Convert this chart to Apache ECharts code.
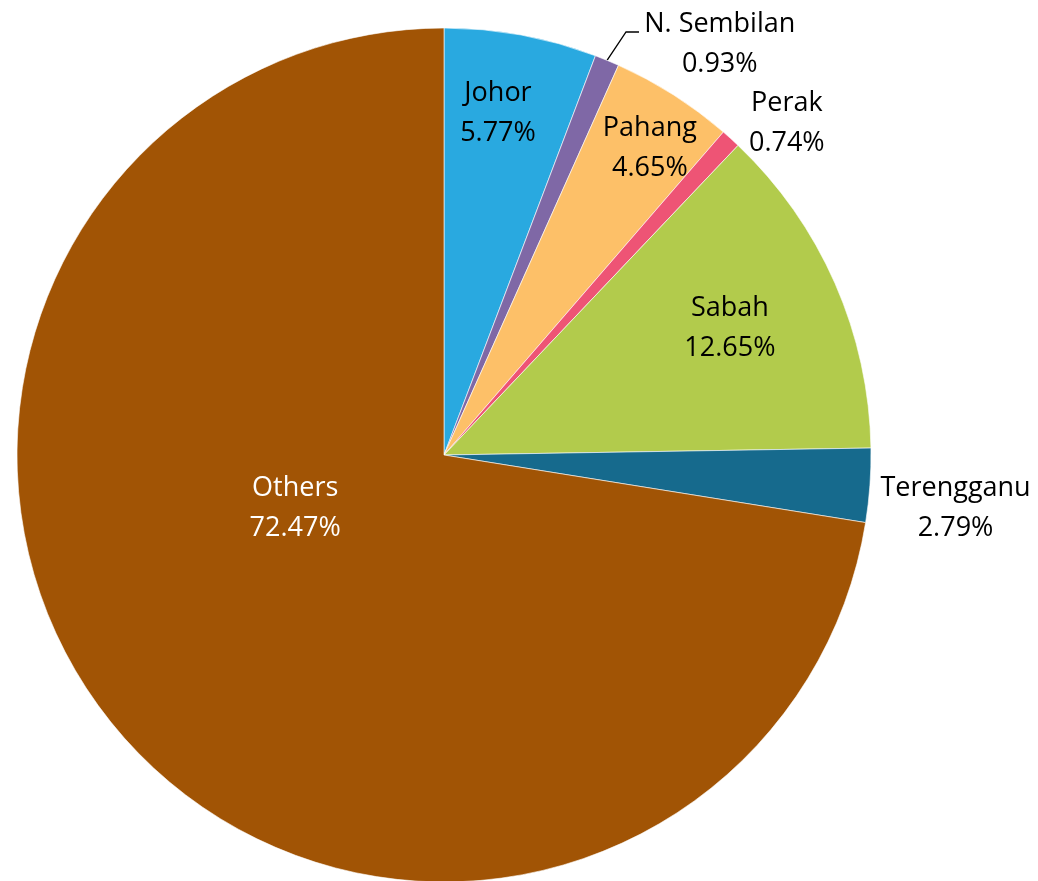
<!DOCTYPE html>
<html>
<head>
<meta charset="utf-8">
<script src="https://cdn.jsdelivr.net/npm/echarts@6/dist/echarts.min.js"></script>
<style>html,body{margin:0;padding:0;background:#fff;}#chart{width:1038px;height:881px;}</style>
</head>
<body>
<div id="chart"></div>
<script>
const categories = ['Johor', 'N. Sembilan', 'Pahang', 'Perak', 'Sabah', 'Terengganu', 'Others'];
const values = [5.77, 0.93, 4.65, 0.74, 12.65, 2.79, 72.47];
const colors = ['#29A9E0', '#7F68A6', '#FDC068', '#EE5475', '#B2CB4C', '#166A8D', '#A15405'];
// label placement (polar: radius in px from center, angle in degrees clockwise from top)
const labelRadius = [349, 497, 372, 479, 314, 514, 157];
const labelAngle = [8.9, 33.7, 33.6, 45.7, 65.6, 95.6, 251.4];
const labelColor = ['#000', '#000', '#000', '#000', '#000', '#000', '#fff'];

const CX = 444, CY = 455, R = 427;
const chart = echarts.init(document.getElementById('chart'));

function polar(r, deg) {
  const a = deg * Math.PI / 180;
  return [CX + r * Math.sin(a), CY - r * Math.cos(a)];
}

// mid angle of each slice
const total = values.reduce((a, b) => a + b, 0);
const midAngles = [];
let acc = 0;
values.forEach(v => { midAngles.push((acc + v / 2) / total * 360); acc += v; });

chart.setOption({
  animation: false,
  series: [{
    type: 'pie',
    center: [CX, CY],
    radius: [0, R],
    startAngle: 90,
    clockwise: true,
    avoidLabelOverlap: false,
    itemStyle: { borderColor: '#fff', borderWidth: 0.6 },
    label: {
      show: true,
      position: 'outside',
      formatter: p => p.name + '\n' + p.value.toFixed(2) + '%',
      fontFamily: 'Open Sans',
      fontSize: 27,
      lineHeight: 40,
      align: 'center'
    },
    labelLine: { show: false },
    labelLayout: function (params) {
      const i = params.dataIndex;
      const [x, y] = polar(labelRadius[i], labelAngle[i]);
      const res = { x: x, y: y + 3, align: 'center', verticalAlign: 'middle' };
      if (i === 1) {
        const p0 = polar(R, midAngles[i]);
        res.labelLinePoints = [p0, [p0[0] + 19, 32], [p0[0] + 32, 32]];
      }
      return res;
    },
    data: categories.map((c, i) => ({
      name: c,
      value: values[i],
      itemStyle: { color: colors[i] },
      label: { color: labelColor[i] },
      labelLine: i === 1 ? { show: true, length: 20, length2: 12, lineStyle: { color: '#000', width: 1.3 } } : { show: false }
    }))
  }]
});
</script>
</body>
</html>
